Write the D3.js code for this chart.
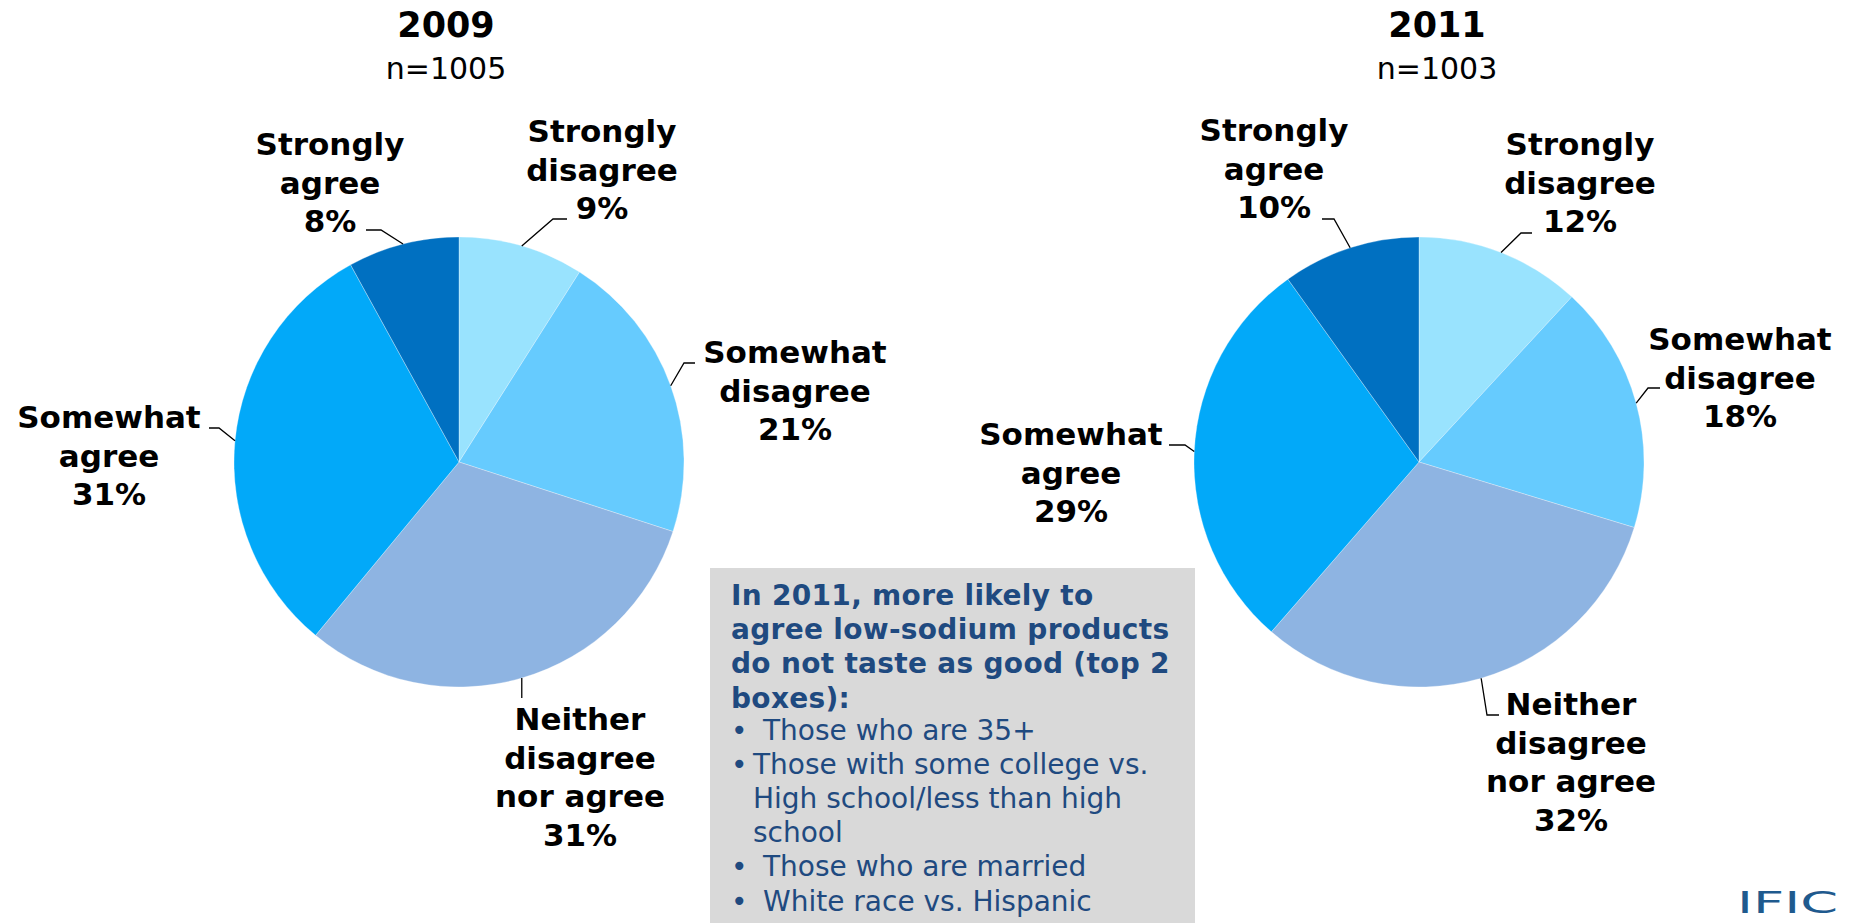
<!DOCTYPE html>
<html>
<head>
<meta charset="utf-8">
<script src="https://cdn.jsdelivr.net/npm/d3@7"></script>
<style>
  html, body { margin: 0; padding: 0; background: #ffffff; overflow: hidden; }
  svg { display: block; }
  text { font-family: "DejaVu Sans", Verdana, sans-serif; }
</style>
</head>
<body>
<svg id="chart" width="1854" height="923"></svg>
<script>
// ---------- DATA ----------
const categories = ["Strongly disagree", "Somewhat disagree", "Neither disagree nor agree", "Somewhat agree", "Strongly agree"];
const labelLines = [["Strongly", "disagree"], ["Somewhat", "disagree"], ["Neither", "disagree", "nor agree"], ["Somewhat", "agree"], ["Strongly", "agree"]];
const years = ["2009", "2011"];
const sampleSizes = ["n=1005", "n=1003"];
const values2009 = [9, 21, 31, 31, 8];
const values2011 = [12, 18, 32, 29, 10];
const noteTitle = ["In 2011, more likely to", "agree low-sodium products", "do not taste as good (top 2", "boxes):"];
const noteBullets = [["Those who are 35+"], ["Those with some college vs.", "High school/less than high", "school"], ["Those who are married"], ["White race vs. Hispanic"]];

// ---------- STYLE / LAYOUT ----------
const colors = ["#99E3FE", "#66CBFE", "#8EB4E2", "#02A9F9", "#0070C1"];
const color = d3.scaleOrdinal().domain(categories).range(colors);
const lineStep = 38.5;

const charts = [
  {
    values: values2009, cx: 459, cy: 462, r: 225, titleX: 446,
    labels: [
      { x: 602, y: 142, elbow: [553, 219], end: [567, 219] },
      { x: 795, y: 363, elbow: [684, 363], end: [695, 363] },
      { x: 580, y: 730, elbow: null, end: null, drop: 698 },
      { x: 109, y: 428, elbow: [219, 428], end: [209, 428] },
      { x: 330, y: 155, elbow: [381, 230], end: [366, 230] }
    ]
  },
  {
    values: values2011, cx: 1419, cy: 462, r: 225, titleX: 1437,
    labels: [
      { x: 1580, y: 155, elbow: [1521, 233], end: [1532, 233] },
      { x: 1740, y: 350, elbow: [1648, 388], end: [1660, 388] },
      { x: 1571, y: 715, elbow: [1487, 715], end: [1499, 715] },
      { x: 1071, y: 445, elbow: [1185, 445], end: [1169, 445] },
      { x: 1274, y: 141, elbow: [1334, 219], end: [1322, 219] }
    ]
  }
];

const svg = d3.select("#chart");

const pie = d3.pie().sort(null).value(d => d.value);

charts.forEach((c, ci) => {
  // Titles
  svg.append("text")
    .attr("x", c.titleX).attr("y", 37)
    .attr("text-anchor", "middle")
    .attr("font-size", 35).attr("font-weight", "bold").attr("fill", "#000")
    .text(years[ci]);
  svg.append("text")
    .attr("x", c.titleX).attr("y", 79)
    .attr("text-anchor", "middle")
    .attr("font-size", 30).attr("fill", "#000")
    .text(sampleSizes[ci]);

  const data = categories.map((cat, i) => ({ cat, value: c.values[i], i }));
  const arcs = pie(data);
  const arc = d3.arc().innerRadius(0).outerRadius(c.r);

  const g = svg.append("g").attr("transform", `translate(${c.cx},${c.cy})`);
  g.selectAll("path").data(arcs).enter().append("path")
    .attr("d", arc)
    .attr("fill", d => color(d.data.cat))
    .attr("stroke", "#ffffff").attr("stroke-width", 0.3);

  // Labels and leader lines
  arcs.forEach((a, i) => {
    const L = c.labels[i];
    const mid = (a.startAngle + a.endAngle) / 2;
    const ex = c.cx + c.r * Math.sin(mid);
    const ey = c.cy - c.r * Math.cos(mid);
    let pts;
    if (L.elbow) {
      pts = [[ex, ey], L.elbow, L.end];
    } else {
      pts = [[ex, ey], [ex, L.drop]];
    }
    svg.append("path")
      .attr("d", d3.line()(pts))
      .attr("fill", "none").attr("stroke", "#000").attr("stroke-width", 1.3);

    const lines = labelLines[i].concat([Math.round(a.data.value) + "%"]);
    const t = svg.append("text")
      .attr("text-anchor", "middle")
      .attr("font-size", 31).attr("font-weight", "bold").attr("fill", "#000");
    lines.forEach((ln, k) => {
      t.append("tspan").attr("x", L.x).attr("y", L.y + k * lineStep).text(ln);
    });
  });
});

// Note box
svg.append("rect")
  .attr("x", 710).attr("y", 568).attr("width", 485).attr("height", 355)
  .attr("fill", "#D9D9D9");

const noteColor = "#1F4A80";
const noteStep = 34.2;
let ny = 605;
noteTitle.forEach(ln => {
  svg.append("text").attr("x", 731).attr("y", ny)
    .attr("font-size", 28).attr("font-weight", "bold").attr("fill", noteColor)
    .attr("letter-spacing", 0.3)
    .text(ln);
  ny += noteStep;
});
ny = 739.5;
noteBullets.forEach((b, bi) => {
  svg.append("text").attr("x", 731).attr("y", ny)
    .attr("font-size", 28).attr("fill", noteColor).text("\u2022");
  const tx = bi === 1 ? 753 : 763;
  b.forEach(ln => {
    svg.append("text").attr("x", tx).attr("y", ny)
      .attr("font-size", 28).attr("fill", noteColor).text(ln);
    ny += noteStep;
  });
});

// Logo
svg.append("text")
  .attr("x", 1737).attr("y", 913)
  .attr("font-family", "'Liberation Serif', serif")
  .attr("font-size", 31).attr("fill", "#1F5A8E")
  .attr("textLength", 101).attr("lengthAdjust", "spacingAndGlyphs")
  .text("IFIC");
</script>
</body>
</html>
